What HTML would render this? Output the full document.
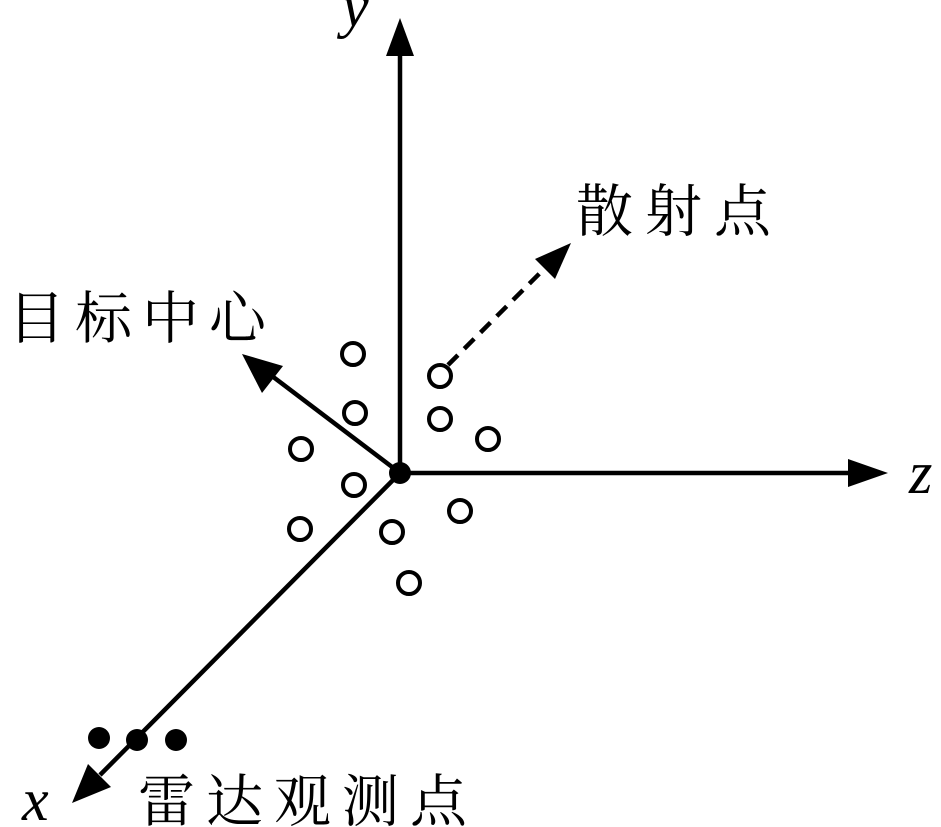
<!DOCTYPE html>
<html><head><style>
html,body{margin:0;padding:0;background:#fff;}
svg{display:block;}
.cj{font-family:"Liberation Serif","Noto Serif CJK SC",serif;font-size:57px;fill:#000;}
.it{font-family:"Liberation Serif",serif;font-style:italic;font-size:60px;fill:#000;}
</style></head><body>
<svg width="941" height="827" viewBox="0 0 941 827" xmlns="http://www.w3.org/2000/svg">
<g stroke="#000" stroke-width="4.5" fill="none">
<line x1="400" y1="473" x2="400" y2="50"/>
<line x1="400" y1="473" x2="852" y2="473"/>
<line x1="400" y1="473" x2="100" y2="775"/>
<line x1="400" y1="473" x2="272" y2="376"/>
<line x1="448" y1="365" x2="548" y2="265" stroke-dasharray="14 9"/>
</g>
<g fill="#000">
<polygon points="400,18 386,56 414,56"/>
<polygon points="888,473 848,459 848,487"/>
<polygon points="72,803 88,764 111,787"/>
<polygon points="242,354 283,366 262,393"/>
<polygon points="571,243 535,259 555,279"/>
<circle cx="400" cy="473" r="11"/>
<circle cx="99" cy="738" r="11"/>
<circle cx="137" cy="740" r="11"/>
<circle cx="176" cy="740" r="11"/>
</g>
<g stroke="#000" stroke-width="4" fill="#fff">
<circle cx="353" cy="354" r="11"/>
<circle cx="355" cy="413" r="11"/>
<circle cx="301" cy="449" r="11"/>
<circle cx="354" cy="485" r="11"/>
<circle cx="300" cy="529" r="11"/>
<circle cx="392" cy="532" r="11"/>
<circle cx="409" cy="583" r="11"/>
<circle cx="460" cy="511" r="11"/>
<circle cx="440" cy="376" r="11"/>
<circle cx="440" cy="419" r="11"/>
<circle cx="488" cy="439" r="11"/>
</g>
<text class="it" x="342" y="26">y</text>
<text class="it" x="909" y="493">z</text>
<text class="it" x="22" y="820">x</text>
<text class="cj" x="576" y="231" letter-spacing="12">散射点</text>
<text class="cj" x="8" y="338" letter-spacing="10">目标中心</text>
<text class="cj" x="138" y="821" letter-spacing="11">雷达观测点</text>
</svg>
</body></html>
